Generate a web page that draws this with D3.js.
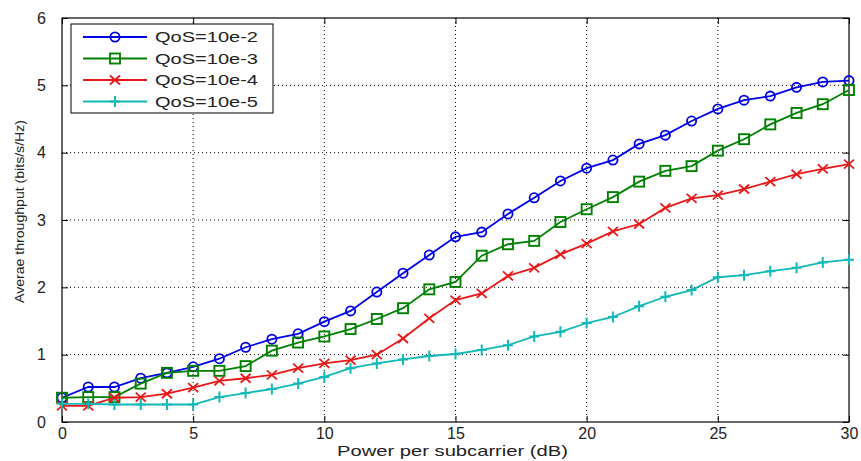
<!DOCTYPE html>
<html>
<head>
<meta charset="utf-8">
<script src="https://cdn.jsdelivr.net/npm/d3@7"></script>
<style>
  body { margin: 0; background: #fff; }
  text { font-family: "Liberation Sans", Arial, sans-serif; }
</style>
</head>
<body>
<div id="chart"></div>
<script>
// power per subcarrier (dB)
var power = d3.range(0, 31);

var qos2 = [0.36, 0.52, 0.52, 0.65, 0.73, 0.82, 0.94, 1.11, 1.23, 1.31, 1.49,
  1.65, 1.93, 2.21, 2.48, 2.75, 2.82, 3.09, 3.33, 3.58, 3.77,
  3.89, 4.13, 4.26, 4.47, 4.65, 4.78, 4.84, 4.97, 5.05, 5.07];
var qos3 = [0.36, 0.37, 0.37, 0.57, 0.73, 0.76, 0.76, 0.83, 1.06, 1.18, 1.27,
  1.38, 1.53, 1.69, 1.97, 2.08, 2.47, 2.64, 2.69, 2.97, 3.16,
  3.34, 3.57, 3.73, 3.80, 4.03, 4.20, 4.42, 4.59, 4.72, 4.93];
var qos4 = [0.24, 0.24, 0.36, 0.37, 0.42, 0.51, 0.61, 0.65, 0.70, 0.80, 0.87,
  0.92, 1.00, 1.24, 1.54, 1.81, 1.91, 2.17, 2.29, 2.49, 2.65,
  2.83, 2.94, 3.18, 3.32, 3.37, 3.46, 3.57, 3.68, 3.76, 3.83];
var qos5 = [0.27, 0.27, 0.26, 0.26, 0.26, 0.26, 0.37, 0.43, 0.49, 0.57, 0.67,
  0.80, 0.87, 0.93, 0.98, 1.01, 1.07, 1.14, 1.27, 1.34, 1.47,
  1.56, 1.72, 1.86, 1.96, 2.15, 2.18, 2.24, 2.29, 2.37, 2.41];

var seriesNames = ["QoS=10e-2", "QoS=10e-3", "QoS=10e-4", "QoS=10e-5"];
var seriesValues = [qos2, qos3, qos4, qos5];
var seriesColors = ["#0000e6", "#008000", "#e81818", "#10b8b8"];
var seriesMarkers = ["circle", "square", "x", "plus"];

var xTicks = [0, 5, 10, 15, 20, 25, 30];
var yTicks = [0, 1, 2, 3, 4, 5, 6];

var width = 861, height = 461;
var plotLeft = 62, plotRight = 849, plotTop = 18, plotBottom = 422;

var svg = d3.select("#chart").append("svg")
  .attr("width", width).attr("height", height);

var x = d3.scaleLinear().domain([0, 30]).range([plotLeft, plotRight]);
var y = d3.scaleLinear().domain([0, 6]).range([plotBottom, plotTop]);

// dotted grid
svg.append("g").selectAll("line").data(xTicks.slice(1, -1)).enter().append("line")
  .attr("x1", d => x(d)).attr("x2", d => x(d))
  .attr("y1", plotTop).attr("y2", plotBottom)
  .attr("stroke", "#000").attr("stroke-width", 1).attr("stroke-dasharray", "1,3");
svg.append("g").selectAll("line").data(yTicks.slice(1, -1)).enter().append("line")
  .attr("x1", plotLeft).attr("x2", plotRight)
  .attr("y1", d => y(d)).attr("y2", d => y(d))
  .attr("stroke", "#000").attr("stroke-width", 1).attr("stroke-dasharray", "1,3");

// axes, ticks inside like MATLAB
svg.append("g").attr("transform", "translate(0," + plotBottom + ")")
  .call(d3.axisBottom(x).tickValues(xTicks).tickSizeInner(-6).tickSizeOuter(0).tickPadding(6))
  .call(g => g.select(".domain").remove());
svg.append("g").attr("transform", "translate(0," + plotTop + ")")
  .call(d3.axisTop(x).tickValues(xTicks).tickSizeInner(-6).tickSizeOuter(0).tickFormat(""))
  .call(g => g.select(".domain").remove());
svg.append("g").attr("transform", "translate(" + plotLeft + ",0)")
  .call(d3.axisLeft(y).tickValues(yTicks).tickFormat(d3.format("d"))
    .tickSizeInner(-6).tickSizeOuter(0).tickPadding(16))
  .call(g => g.select(".domain").remove());
svg.append("g").attr("transform", "translate(" + plotRight + ",0)")
  .call(d3.axisRight(y).tickValues(yTicks).tickSizeInner(-6).tickSizeOuter(0).tickFormat(""))
  .call(g => g.select(".domain").remove());
svg.selectAll(".tick text").attr("font-size", 16).attr("fill", "#222");

svg.append("rect").attr("x", plotLeft).attr("y", plotTop)
  .attr("width", plotRight - plotLeft).attr("height", plotBottom - plotTop)
  .attr("fill", "none").attr("stroke", "#000").attr("stroke-width", 1.2);

function drawMarker(g, type, cx, cy, color) {
  if (type === "circle") {
    g.append("circle").attr("cx", cx).attr("cy", cy).attr("r", 4.6)
      .attr("fill", "none").attr("stroke", color).attr("stroke-width", 1.8);
  } else if (type === "square") {
    g.append("rect").attr("x", cx - 5).attr("y", cy - 5).attr("width", 10).attr("height", 10)
      .attr("fill", "none").attr("stroke", color).attr("stroke-width", 1.9);
  } else if (type === "x") {
    g.append("path").attr("d", "M" + (cx - 5) + "," + (cy - 4.5) + "L" + (cx + 5) + "," + (cy + 4.5) +
      "M" + (cx - 5) + "," + (cy + 4.5) + "L" + (cx + 5) + "," + (cy - 4.5))
      .attr("stroke", color).attr("stroke-width", 1.8);
  } else {
    g.append("path").attr("d", "M" + (cx - 5) + "," + cy + "L" + (cx + 5) + "," + cy +
      "M" + cx + "," + (cy - 5.5) + "L" + cx + "," + (cy + 5.5))
      .attr("stroke", color).attr("stroke-width", 2);
  }
}

var line = d3.line().x((d, i) => x(power[i])).y(d => y(d));

seriesValues.forEach(function(vals, k) {
  var g = svg.append("g");
  g.append("path").datum(vals).attr("d", line)
    .attr("fill", "none").attr("stroke", seriesColors[k]).attr("stroke-width", 1.8);
  vals.forEach(function(v, i) {
    drawMarker(g, seriesMarkers[k], x(power[i]), y(v), seriesColors[k]);
  });
});

// legend
var lg = svg.append("g");
lg.append("rect").attr("x", 71).attr("y", 24).attr("width", 202).attr("height", 89)
  .attr("fill", "#fff").attr("stroke", "#000").attr("stroke-width", 1);
seriesNames.forEach(function(name, k) {
  var ly = 37 + k * 21.5;
  lg.append("line").attr("x1", 83).attr("x2", 147).attr("y1", ly).attr("y2", ly)
    .attr("stroke", seriesColors[k]).attr("stroke-width", 1.8);
  drawMarker(lg, seriesMarkers[k], 115, ly, seriesColors[k]);
  lg.append("text").attr("x", 155).attr("y", ly + 5).attr("font-size", 14)
    .attr("textLength", 103).attr("lengthAdjust", "spacingAndGlyphs")
    .attr("fill", "#222").text(name);
});

// axis labels
svg.append("text").attr("x", 337).attr("y", 456)
  .attr("font-size", 15).attr("fill", "#222")
  .attr("textLength", 231).attr("lengthAdjust", "spacingAndGlyphs")
  .text("Power per subcarrier (dB)");
svg.append("text").attr("transform", "translate(24,303) rotate(-90)")
  .attr("font-size", 13.5).attr("fill", "#222")
  .attr("textLength", 183).attr("lengthAdjust", "spacingAndGlyphs")
  .text("Averae throughput (bits/s/Hz)");
</script>
</body>
</html>
